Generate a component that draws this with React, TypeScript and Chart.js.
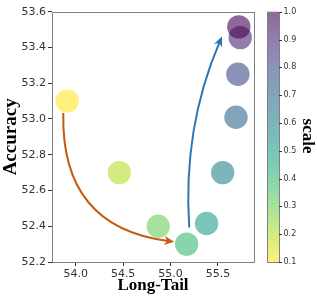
import React, { useEffect, useRef } from "react";
import { Chart, registerables } from "chart.js";

Chart.register(...registerables);

// ---- data ----
const longTail = [53.91, 54.46, 54.87, 55.17, 55.38, 55.55, 55.69, 55.71, 55.735, 55.72];
const accuracy = [53.1, 52.7, 52.4, 52.3, 52.415, 52.7, 53.01, 53.25, 53.455, 53.515];
const scaleVals = [0.1, 0.2, 0.3, 0.4, 0.5, 0.6, 0.7, 0.8, 0.9, 1.0];

const xTicks = [54.0, 54.5, 55.0, 55.5];
const yTicks = [52.2, 52.4, 52.6, 52.8, 53.0, 53.2, 53.4, 53.6];
const cbTicks = [0.1, 0.2, 0.3, 0.4, 0.5, 0.6, 0.7, 0.8, 0.9, 1.0];

// arrows: [x0, y0, x1, y1] in data coords
const orangeArrow = [53.869, 53.033, 55.038, 52.313];
const blueArrow = [55.197, 52.394, 55.542, 53.461];

const X_MIN = 53.75;
const X_MAX = 55.88;
const Y_MIN = 52.2;
const Y_MAX = 53.6;
const CB_MIN = 0.1;
const CB_MAX = 1.0;
const ALPHA = 0.6;

const VIRIDIS = [
  [68, 1, 84], [72, 36, 117], [65, 68, 135], [53, 95, 141], [42, 120, 142],
  [33, 145, 140], [34, 168, 132], [68, 191, 112], [122, 209, 81], [189, 223, 38], [253, 231, 37],
];

function viridis(t: number): number[] {
  const c = Math.max(0, Math.min(1, t)) * 10;
  const i = Math.min(9, Math.floor(c));
  const f = c - i;
  const a = VIRIDIS[i], b = VIRIDIS[i + 1];
  return [0, 1, 2].map((k) => Math.round(a[k] + (b[k] - a[k]) * f));
}
function scaleColor(s: number, alpha = ALPHA): string {
  const t = 1 - (s - CB_MIN) / (CB_MAX - CB_MIN);
  const [r, g, b] = viridis(t);
  return `rgba(${r},${g},${b},${alpha})`;
}

function drawArrow(ctx: CanvasRenderingContext2D, chart: any, arr: number[], rad: number, color: string) {
  const xs = chart.scales.x, ys = chart.scales.y;
  const x0 = xs.getPixelForValue(arr[0]), y0 = ys.getPixelForValue(arr[1]);
  const x1 = xs.getPixelForValue(arr[2]), y1 = ys.getPixelForValue(arr[3]);
  const dx = x1 - x0, dy = y1 - y0;
  const cx = (x0 + x1) / 2 + rad * dy;
  const cy = (y0 + y1) / 2 - rad * dx;
  // tangent at end
  let tx = x1 - cx, ty = y1 - cy;
  const tl = Math.hypot(tx, ty);
  tx /= tl; ty /= tl;
  const headLen = 10, headW = 4.5;
  const bx = x1 - tx * headLen, by = y1 - ty * headLen;
  ctx.save();
  ctx.strokeStyle = color;
  ctx.fillStyle = color;
  ctx.lineWidth = 2;
  ctx.beginPath();
  ctx.moveTo(x0, y0);
  ctx.quadraticCurveTo(cx, cy, x1 - tx * 6, y1 - ty * 6);
  ctx.stroke();
  ctx.beginPath();
  ctx.moveTo(x1, y1);
  ctx.lineTo(bx - ty * headW, by + tx * headW);
  ctx.lineTo(bx + tx * 3, by + ty * 3);
  ctx.lineTo(bx + ty * headW, by - tx * headW);
  ctx.closePath();
  ctx.fill();
  ctx.restore();
}

const decorPlugin = {
  id: "decor",
  afterDatasetsDraw(chart: any) {
    const ctx = chart.ctx as CanvasRenderingContext2D;
    const ca = chart.chartArea;
    // frame
    ctx.save();
    ctx.strokeStyle = "#808080";
    ctx.lineWidth = 1;
    ctx.strokeRect(Math.round(ca.left) + 0.5, Math.round(ca.top) + 0.5, Math.round(ca.right - ca.left), Math.round(ca.bottom - ca.top));
    ctx.restore();

    drawArrow(ctx, chart, orangeArrow, -0.45, "#c55a11");
    drawArrow(ctx, chart, blueArrow, 0.12, "#2e75b6");

    // colorbar
    const cbL = 267, cbW = 12;
    const top = ca.top, bot = ca.bottom;
    const grad = ctx.createLinearGradient(0, bot, 0, top);
    for (let i = 0; i <= 20; i++) {
      const s = CB_MIN + (CB_MAX - CB_MIN) * (i / 20);
      grad.addColorStop(i / 20, scaleColor(s));
    }
    ctx.save();
    ctx.fillStyle = grad;
    ctx.fillRect(cbL, top, cbW, bot - top);
    ctx.strokeStyle = "#808080";
    ctx.lineWidth = 1;
    ctx.strokeRect(cbL + 0.5, Math.round(top) + 0.5, cbW, Math.round(bot - top));
    ctx.fillStyle = "#333";
    ctx.strokeStyle = "#333";
    ctx.font = "8px 'DejaVu Sans'";
    ctx.textAlign = "left";
    ctx.textBaseline = "middle";
    cbTicks.forEach((v) => {
      const y = bot - ((v - CB_MIN) / (CB_MAX - CB_MIN)) * (bot - top);
      const yy = Math.round(y) + 0.5;
      ctx.beginPath();
      ctx.moveTo(cbL + cbW, yy);
      ctx.lineTo(cbL + cbW + 3, yy);
      ctx.stroke();
      ctx.fillText(v.toFixed(1), cbL + cbW + 4.5, y);
    });
    // colorbar label
    ctx.translate(307, 136);
    ctx.rotate(Math.PI / 2);
    ctx.fillStyle = "#000";
    ctx.font = "bold 17px 'Liberation Serif'";
    ctx.textAlign = "center";
    ctx.textBaseline = "middle";
    ctx.fillText("scale", 0, 0);
    ctx.restore();
  },
};

export default function App() {
  const ref = useRef<HTMLCanvasElement | null>(null);
  useEffect(() => {
    if (!ref.current) return;
    const chart = new Chart(ref.current, {
      type: "scatter",
      data: {
        datasets: [
          {
            data: longTail.map((x, i) => ({ x, y: accuracy[i] })),
            backgroundColor: scaleVals.map((s) => scaleColor(s)),
            borderWidth: 0,
            pointRadius: 11.7,
            pointHoverRadius: 11.7,
          },
        ],
      },
      options: {
        animation: false,
        responsive: false,
        events: [],
        layout: { padding: { left: 0, top: 10, right: 63, bottom: 0 } },
        plugins: { legend: { display: false }, tooltip: { enabled: false } },
        scales: {
          x: {
            type: "linear",
            min: X_MIN,
            max: X_MAX,
            afterBuildTicks: (s: any) => { s.ticks = xTicks.map((v) => ({ value: v })); },
            afterFit: (s: any) => { s.height = 34; },
            grid: { drawOnChartArea: false, drawTicks: true, tickLength: 4, tickColor: "#333", color: "#333" },
            border: { display: false },
            ticks: { color: "#333", font: { family: "'DejaVu Sans'", size: 11 }, padding: 2, maxRotation: 0, callback: (v: any) => Number(v).toFixed(1) },
            title: { display: true, text: "Long-Tail", color: "#000", font: { family: "'Liberation Serif'", size: 17, weight: "bold" }, padding: { top: 0, bottom: 0 } },
          },
          y: {
            type: "linear",
            min: Y_MIN,
            max: Y_MAX,
            afterBuildTicks: (s: any) => { s.ticks = yTicks.map((v) => ({ value: v })); },
            afterFit: (s: any) => { s.width = 52; },
            grid: { drawOnChartArea: false, drawTicks: true, tickLength: 4, tickColor: "#333", color: "#333" },
            border: { display: false },
            ticks: { color: "#333", font: { family: "'DejaVu Sans'", size: 11 }, padding: 2, callback: (v: any) => Number(v).toFixed(1) },
            title: { display: true, text: "Accuracy", color: "#000", font: { family: "'Liberation Serif'", size: 19, weight: "bold" }, padding: { top: 0, bottom: 0 } },
          },
        },
      },
      plugins: [decorPlugin],
    });
    return () => chart.destroy();
  }, []);
  return (
    <div style={{ position: "fixed", left: 0, top: 0, width: 317, height: 296, background: "#fff" }}>
      <canvas ref={ref} width={317} height={296} style={{ display: "block" }} />
    </div>
  );
}
